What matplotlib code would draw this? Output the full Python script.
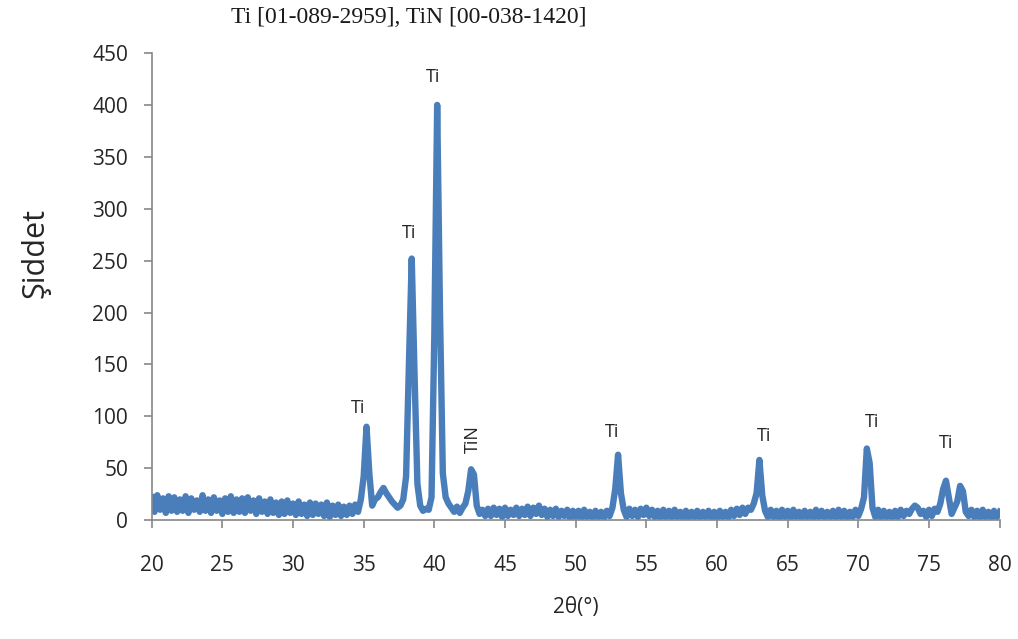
import matplotlib
matplotlib.use('Agg')
import matplotlib.pyplot as plt
import numpy as np

# 2theta grid, step 0.2 deg, 20 -> 80
two_theta = np.round(np.arange(20.0, 80.001, 0.2), 1)

# intensity, one row = 2 degrees
intensity = [
    22, 8, 24, 10, 21, 7, 23, 9, 22, 8,       # 20
    20, 9, 23, 7, 21, 10, 19, 8, 24, 9,       # 22
    20, 7, 22, 9, 19, 6, 21, 8, 23, 7,        # 24
    20, 8, 21, 7, 22, 9, 19, 6, 21, 8,        # 26
    18, 6, 20, 7, 17, 5, 18, 6, 19, 7,        # 28
    16, 5, 18, 6, 15, 4, 17, 5, 16, 6,        # 30
    15, 4, 17, 3, 14, 5, 15, 4, 13, 5,        # 32
    14, 6, 15, 8, 20, 42, 90, 45, 14, 20,     # 34
    22, 27, 31, 26, 22, 18, 15, 12, 14, 20,   # 36
    42, 150, 252, 140, 35, 14, 9, 11, 10, 22,   # 38
    180, 400, 200, 45, 22, 16, 12, 8, 13, 7,    # 40
    12, 16, 28, 49, 44, 14, 6, 10, 4, 11,     # 42
    4, 12, 5, 11, 3, 12, 4, 10, 5, 12,        # 44
    4, 11, 5, 13, 4, 12, 6, 14, 5, 11,        # 46
    3, 10, 4, 11, 3, 9, 4, 10, 2, 9,          # 48
    3, 9, 2, 10, 3, 8, 2, 9, 3, 8,            # 50
    2, 9, 4, 12, 30, 63, 26, 10, 3, 11,       # 52
    4, 10, 3, 11, 5, 12, 4, 10, 3, 9,         # 54
    2, 10, 3, 9, 2, 10, 3, 8, 2, 9,           # 56
    2, 8, 3, 9, 2, 8, 3, 9, 2, 8,             # 58
    2, 9, 3, 8, 2, 10, 4, 11, 5, 12,          # 60
    6, 12, 10, 16, 26, 58, 24, 9, 3, 10,      # 62
    3, 9, 2, 10, 3, 9, 2, 10, 3, 8,           # 64
    2, 9, 3, 8, 2, 10, 3, 9, 2, 8,            # 66
    3, 9, 2, 10, 3, 9, 2, 8, 3, 10,           # 68
    4, 11, 22, 69, 55, 12, 3, 10, 2, 9,       # 70
    3, 8, 2, 9, 3, 10, 4, 9, 6, 11,           # 72
    14, 12, 6, 9, 3, 10, 4, 11, 8, 16,        # 74
    30, 38, 22, 6, 12, 18, 33, 28, 8, 4,      # 76
    10, 3, 9, 2, 10, 3, 8, 2, 9, 3,           # 78
    8,                                        # 80
]

# peak labels (text, x, y, rotation)
label_text = ['Ti', 'Ti', 'Ti', 'TiN', 'Ti', 'Ti', 'Ti', 'Ti']
label_x = [34.6, 38.2, 39.9, 42.7, 52.55, 63.3, 71.0, 76.2]
label_y = [108, 277, 427, 78, 85, 81, 95, 74]
label_rot = [0, 0, 0, 90, 0, 0, 0, 0]

blue = '#4a7ebb'
txt = '#262626'

fig = plt.figure(figsize=(10.18, 6.39), dpi=100)
ax = fig.add_axes([0.149, 0.186, 0.833, 0.731])

ax.plot(two_theta, intensity, color=blue, lw=4.6, solid_joinstyle='round')

for t, x, y, r in zip(label_text, label_x, label_y, label_rot):
    ax.text(x, y, t, rotation=r, ha='center', va='center',
            fontsize=13, color=txt, family='Open Sans')

ax.set_xlim(20, 80)
ax.set_ylim(0, 450)
ax.set_xticks(np.arange(20, 81, 5))
ax.set_yticks(np.arange(0, 451, 50))

for s in ['top', 'right']:
    ax.spines[s].set_visible(False)
for s in ['left', 'bottom']:
    ax.spines[s].set_color('#888888')
    ax.spines[s].set_linewidth(1.2)

ax.tick_params(axis='both', colors='#888888', labelcolor=txt, labelsize=15,
               length=6, width=1.2, direction='out')
ax.tick_params(axis='x', pad=19)
ax.tick_params(axis='y', pad=11)
for lab in ax.get_xticklabels() + ax.get_yticklabels():
    lab.set_family('Open Sans')

ax.set_xlabel('2θ(°)', fontsize=15, color=txt, family='Open Sans', labelpad=15)
fig.text(35 / 1018, 1 - 253 / 639, 'Şiddet', rotation=90, ha='center', va='center',
         fontsize=22, color=txt, family='Open Sans')

fig.text(0.402, 0.973, 'Ti [01-089-2959], TiN [00-038-1420]', ha='center', va='center',
         fontsize=17, color='#1a1a1a', family='Liberation Serif')

fig.savefig('out.png', dpi=100)
